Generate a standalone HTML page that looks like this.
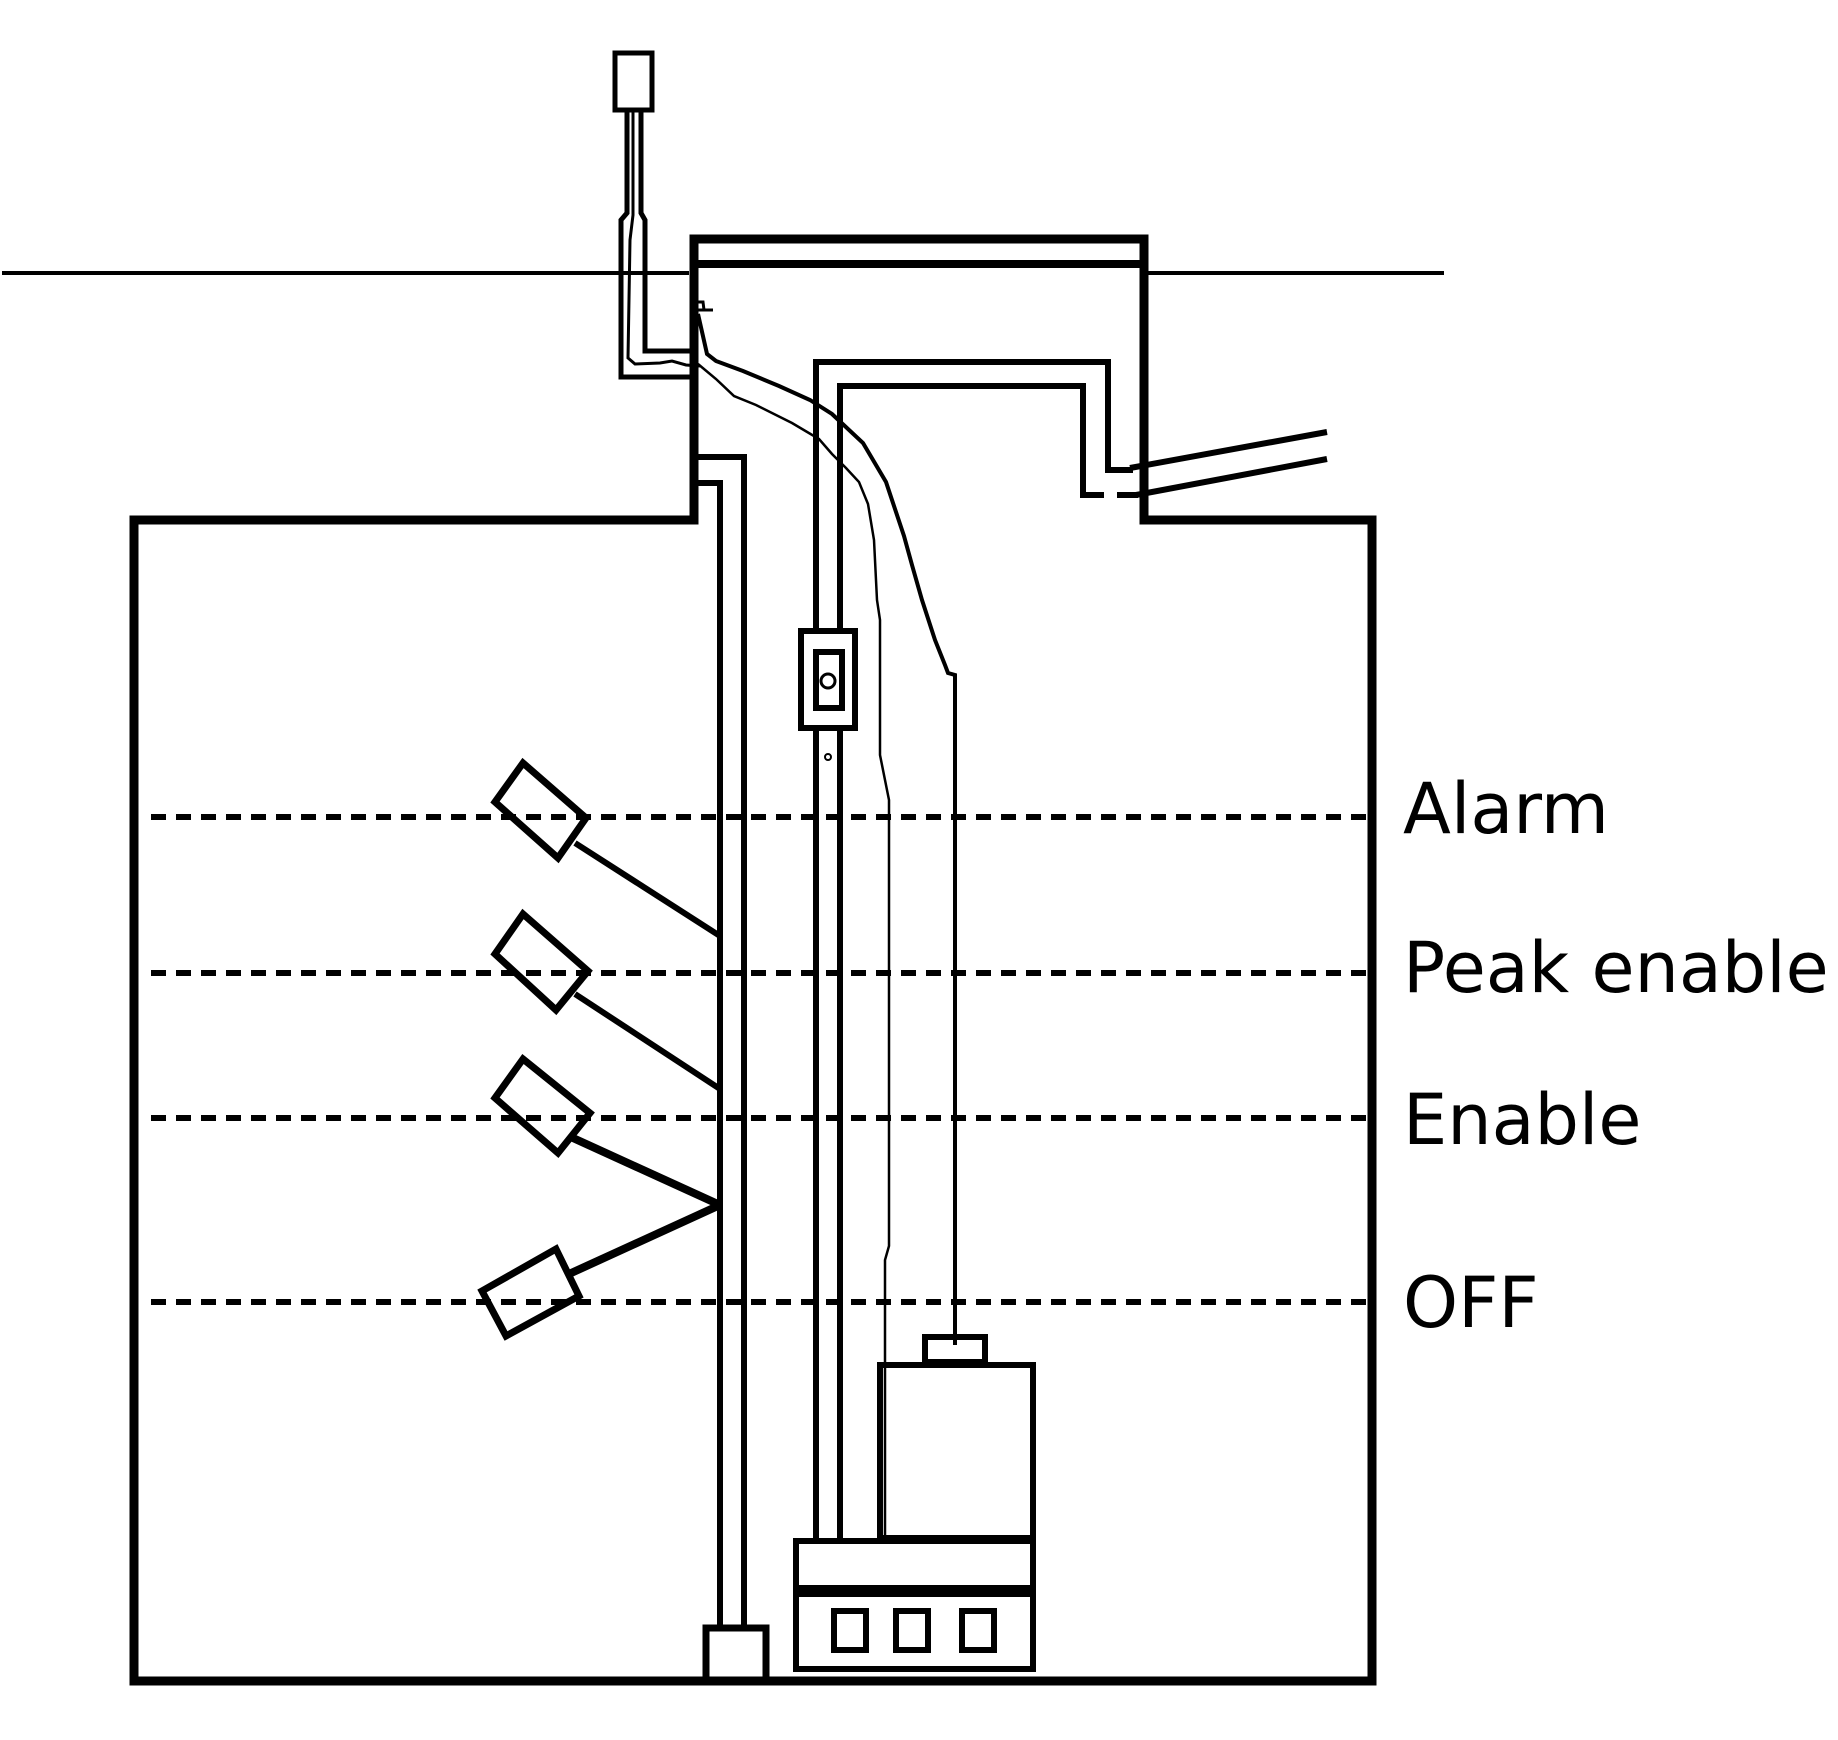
<!DOCTYPE html>
<html><head><meta charset="utf-8"><style>
html,body{margin:0;padding:0;background:#fff}
svg{display:block}
</style></head><body>
<svg width="1838" height="1740" viewBox="0 0 1838 1740" xmlns="http://www.w3.org/2000/svg">
<rect width="1838" height="1740" fill="#fff"/>
<g fill="none" stroke="#000" stroke-linejoin="miter">
<line x1="2" y1="273" x2="689" y2="273" stroke-width="4"/>
<line x1="1147" y1="273" x2="1444" y2="273" stroke-width="4"/>
<path d="M134,520 H694 V239 H1144 V520 H1372 V1681 H134 Z" stroke-width="9"/>
<line x1="694" y1="264" x2="1144" y2="264" stroke-width="8"/>
<rect x="615" y="53" width="37" height="57" stroke-width="5"/>
<path d="M627,111 V213 L621,220 V377 H690" stroke-width="5"/>
<path d="M641,111 V213 L645,220 V351 H690" stroke-width="5"/>
<path d="M633,111 V215 L630,240 L628,358 L635,364 L660,363 L672,361 L686,365 L700,366" stroke-width="3"/>
<path d="M697,302 L703,302 L704,310 M697,310 L713,310" stroke-width="3"/>
<path d="M694,457 H744 V1625" stroke-width="6"/>
<path d="M694,483 H720 V1625" stroke-width="6"/>
<rect x="706" y="1628" width="60" height="52" stroke-width="7"/>
<path d="M816,1538 V362 H1108 V470 H1133" stroke-width="6"/>
<path d="M840,1538 V386 H1083 V495 H1104 M1117,495 H1138" stroke-width="6"/>
<line x1="1130" y1="468" x2="1327" y2="432" stroke-width="6"/>
<line x1="1136" y1="495" x2="1327" y2="459" stroke-width="6"/>
<rect x="801" y="631" width="54" height="97" fill="#fff" stroke-width="6"/>
<rect x="816" y="652" width="26" height="56" stroke-width="6"/>
<circle cx="828" cy="681" r="7" stroke-width="3"/>
<circle cx="828" cy="757" r="3" stroke-width="2"/>
<path d="M698,314 L707,354 L716,361 L743,371 L779,386 L810,400 L832,414 L863,443 L886,482 L904,536 L912,565 L922,600 L935,640 L945,665 L948,673 L955,675 V1345" stroke-width="4"/>
<path d="M698,364 L716,379 L734,396 L756,405 L792,423 L819,439 L832,454 L846,468 L859,482 L868,504 L874,540 L877,600 L880,620 L880,755 L889,800 L889,1246 L885,1260 L885,1538" stroke-width="2.5"/>
<rect x="925" y="1337" width="60" height="25" stroke-width="6"/>
<rect x="880" y="1365" width="153" height="173" stroke-width="6"/>
<rect x="796" y="1541" width="237" height="128" stroke-width="6"/>
<line x1="796" y1="1591" x2="1033" y2="1591" stroke-width="12"/>
<rect x="834" y="1611" width="32" height="39" stroke-width="6"/>
<rect x="896" y="1611" width="32" height="39" stroke-width="6"/>
<rect x="962" y="1611" width="32" height="39" stroke-width="6"/>
<g stroke-width="6" stroke-dasharray="15 10">
<line x1="151" y1="817" x2="1372" y2="817"/>
<line x1="151" y1="973" x2="1372" y2="973"/>
<line x1="151" y1="1118" x2="1372" y2="1118"/>
<line x1="151" y1="1302" x2="1372" y2="1302"/>
</g>
<g stroke-width="7">
<polygon points="523,763 586,818 558,858 495,802"/>
<polygon points="523,914 588,971 556,1010 495,954"/>
<polygon points="523,1059 590,1113 558,1153 495,1098"/>
<polygon points="556,1249 579,1296 506,1336 482,1291"/>
</g>
<line x1="575" y1="843" x2="720" y2="936" stroke-width="6"/>
<line x1="575" y1="994" x2="720" y2="1089" stroke-width="6"/>
<line x1="573" y1="1138" x2="720" y2="1205" stroke-width="8"/>
<line x1="569" y1="1274" x2="720" y2="1205" stroke-width="8"/>
</g>
<g font-family="DejaVu Sans, Liberation Sans, sans-serif" font-size="70" fill="#000">
<text x="1403" y="833">Alarm</text>
<text x="1403" y="992">Peak enable</text>
<text x="1403" y="1144">Enable</text>
<text x="1403" y="1327">OFF</text>
</g>
</svg>
</body></html>
